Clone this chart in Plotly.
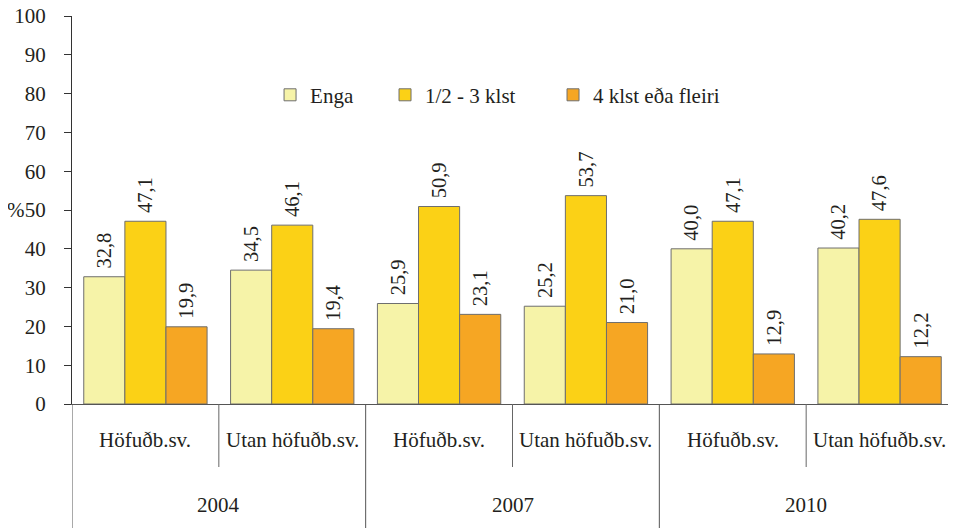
import plotly.graph_objects as go

# Data
years = ["2004", "2007", "2010"]
regions = ["Höfuðb.sv.", "Utan höfuðb.sv."]
series_names = ["Enga", "1/2 - 3 klst", "4 klst eða fleiri"]
enga = [32.8, 34.5, 25.9, 25.2, 40.0, 40.2]
half_to_three = [47.1, 46.1, 50.9, 53.7, 47.1, 47.6]
four_plus = [19.9, 19.4, 23.1, 21.0, 12.9, 12.2]
y_ticks = [0, 10, 20, 30, 40, 50, 60, 70, 80, 90, 100]

colors = ["#F6F3A8", "#FBD116", "#F6A623"]
font_family = "Liberation Serif"
text_color = "#231F20"

positions = list(range(len(years) * len(regions)))

# each series gets its own single-item legend so the entries can be placed freely
legend_names = ["legend", "legend2", "legend3"]
legend_x = [0.2248, 0.3553, 0.5460]

fig = go.Figure()
for name, vals, col, lg in zip(series_names, [enga, half_to_three, four_plus], colors, legend_names):
    fig.add_trace(go.Bar(
        x=positions,
        y=vals,
        name=name,
        legend=lg,
        marker=dict(color=col, line=dict(color="#6E6E6E", width=1)),
        texttemplate="\u00a0%{y:.1f}",
        textposition="outside",
        textangle=-90,
        textfont=dict(size=21, color=text_color, family=font_family),
        cliponaxis=False,
    ))

legend_style = dict(
    orientation="h",
    y=0.796,
    xanchor="left", yanchor="middle",
    bgcolor="rgba(0,0,0,0)",
    font=dict(size=21, family=font_family, color=text_color),
    itemwidth=30,
)

fig.update_layout(
    width=956,
    height=528,
    margin=dict(l=64, r=11, t=8, b=132, autoexpand=False),
    barmode="group",
    bargap=0.16,
    bargroupgap=0,
    separators=", ",
    plot_bgcolor="white",
    paper_bgcolor="white",
    font=dict(family=font_family, size=21, color=text_color),
    legend=dict(x=legend_x[0], **legend_style),
    legend2=dict(x=legend_x[1], **legend_style),
    legend3=dict(x=legend_x[2], **legend_style),
    showlegend=True,
)

fig.update_xaxes(
    range=[-0.5, len(positions) - 0.5],
    showticklabels=False,
    ticks="",
    showgrid=False,
    zeroline=False,
    showline=True,
    linecolor="#555555",
    linewidth=1,
    automargin=False,
)
fig.update_yaxes(
    range=[0, 100],
    tickvals=y_ticks,
    ticks="outside",
    ticklen=7,
    tickcolor="#333333",
    ticklabelstandoff=14,
    ticklabeloverflow="allow",
    showgrid=False,
    zeroline=False,
    showline=True,
    linecolor="#333333",
    linewidth=1,
    automargin=False,
    tickfont=dict(size=21, family=font_family, color=text_color),
)

# "%" axis label next to the 50 tick
fig.add_annotation(
    text="%", xref="paper", yref="y", x=0, y=50,
    xanchor="right", yanchor="middle", xshift=-45,
    showarrow=False, font=dict(size=21, family=font_family, color=text_color),
)

# Two-level category labels and dividers
inner_y = -36 / 388
outer_y = -101 / 388
for gi, yr in enumerate(years):
    for ri, reg in enumerate(regions):
        fig.add_annotation(
            text=reg, xref="x", yref="paper", x=gi * 2 + ri, y=inner_y,
            xanchor="center", yanchor="middle", showarrow=False,
            font=dict(size=21, family=font_family, color=text_color),
        )
    fig.add_annotation(
        text=yr, xref="x", yref="paper", x=gi * 2 + 0.5, y=outer_y,
        xanchor="center", yanchor="middle", showarrow=False,
        font=dict(size=21, family=font_family, color=text_color),
    )
    # inner divider between the two regions
    fig.add_shape(
        type="line", xref="x", yref="paper",
        x0=gi * 2 + 0.5, x1=gi * 2 + 0.5, y0=0, y1=-63 / 388,
        line=dict(color="#666666", width=1),
    )

for b in range(len(years) + 1):
    xb = b * 2 - 0.5
    fig.add_shape(
        type="line", xref="x", yref="paper",
        x0=xb, x1=xb, y0=0, y1=-124 / 388,
        line=dict(color="#555555", width=1),
    )

fig.write_html("out.html")
